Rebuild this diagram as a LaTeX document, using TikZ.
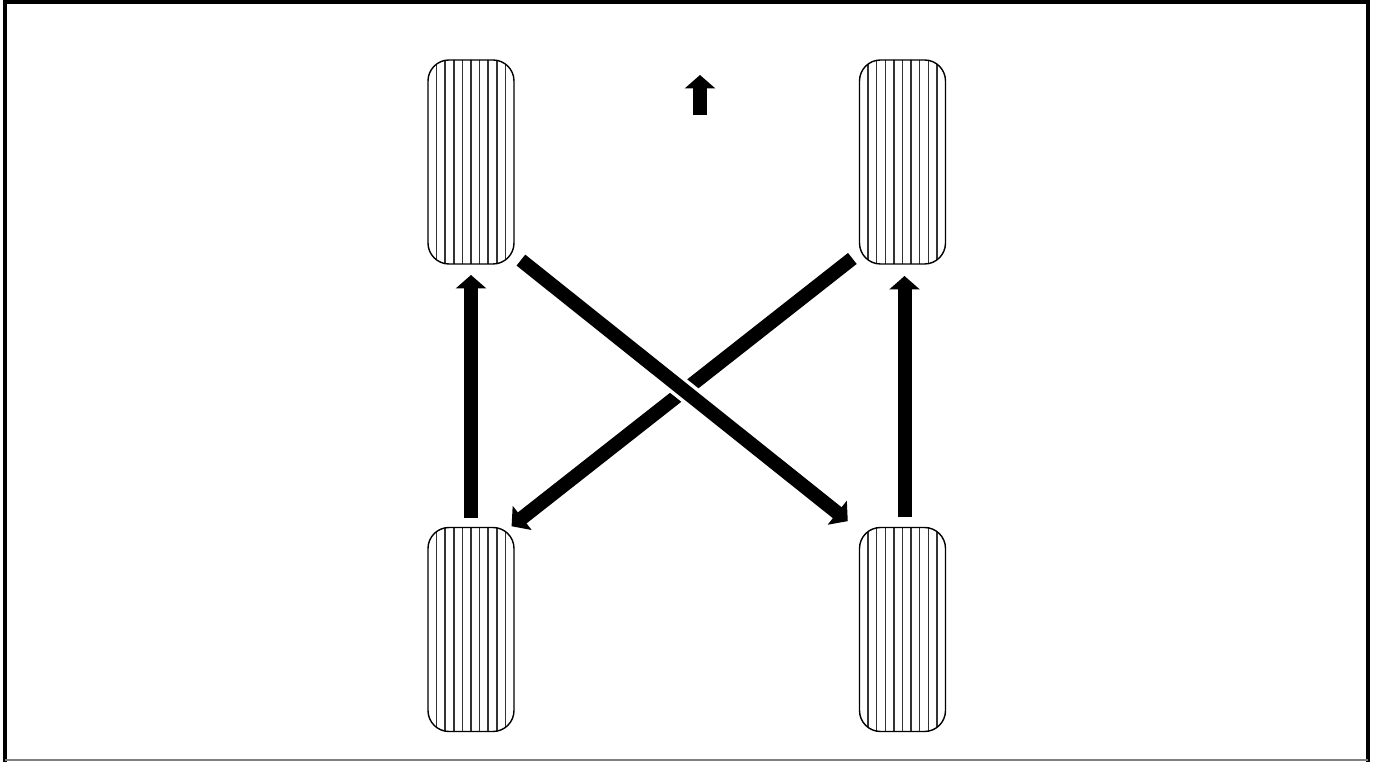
\documentclass[tikz,border=0pt]{standalone}
\usepackage{tikz}
\usetikzlibrary{arrows.meta,positioning,calc}

\begin{document}
\begin{tikzpicture}[
  tyre/.style={draw, line width=0.8pt, rounded corners=0.42cm,
               minimum width=1.72cm, minimum height=4.08cm,
               inner sep=0pt, outer sep=0pt,
               path picture={
                 \foreach \k in {1,...,9}
                   \draw[line width=0.9pt, black!80]
                     ($(path picture bounding box.south west)+(\k*0.172,-0.1)$) -- ++(0,4.4);
               }},
  move/.style={line width=0.28cm, black,
               -{Triangle[width=0.6cm, length=0.27cm]}},
  frameline/.style={line width=0.08cm, black},
]

\useasboundingbox (0,0) rectangle (27.5,15.24);

% Frame
\draw[frameline] (0.06,15.20) -- (27.36,15.20);
\draw[frameline] (0.10,15.24) -- (0.10,0);
\draw[frameline] (27.36,15.24) -- (27.36,0);
\draw[gray, line width=0.6pt] (0.10,0.04) -- (27.36,0.04);

% Tyres
\node[tyre] (tl) at (9.42,12.00) {};
\node[tyre] (tr) at (18.05,12.00) {};
\node[tyre] (bl) at (9.42,2.65) {};
\node[tyre] (br) at (18.05,2.65) {};

% Direction of travel
\coordinate (dirfrom) at (14.00,12.94);
\coordinate (dirto) at (14.00,13.74);
\draw[move] (dirfrom) -- (dirto);

% Rotation
\draw[move, shorten <=0.18cm, shorten >=0.22cm] (bl.north) -- (tl.south);
\draw[move, shorten <=0.2cm, shorten >=0.24cm] ([xshift=0.04cm]br.north) -- ([xshift=0.04cm]tr.south);
\draw[move, shorten <=0.08cm, shorten >=0.04cm] ([xshift=-0.08cm,yshift=0.16cm]tr.south west) -- ([xshift=-0.08cm]bl.north east);
\draw[move, shorten <=0.1cm, shorten >=0.3cm,
      preaction={draw, white, line width=0.42cm, -, shorten >=0.6cm}]
  ([xshift=0.06cm,yshift=0.14cm]tl.south east) -- ([yshift=-0.06cm]br.north west);

\end{tikzpicture}
\end{document}
